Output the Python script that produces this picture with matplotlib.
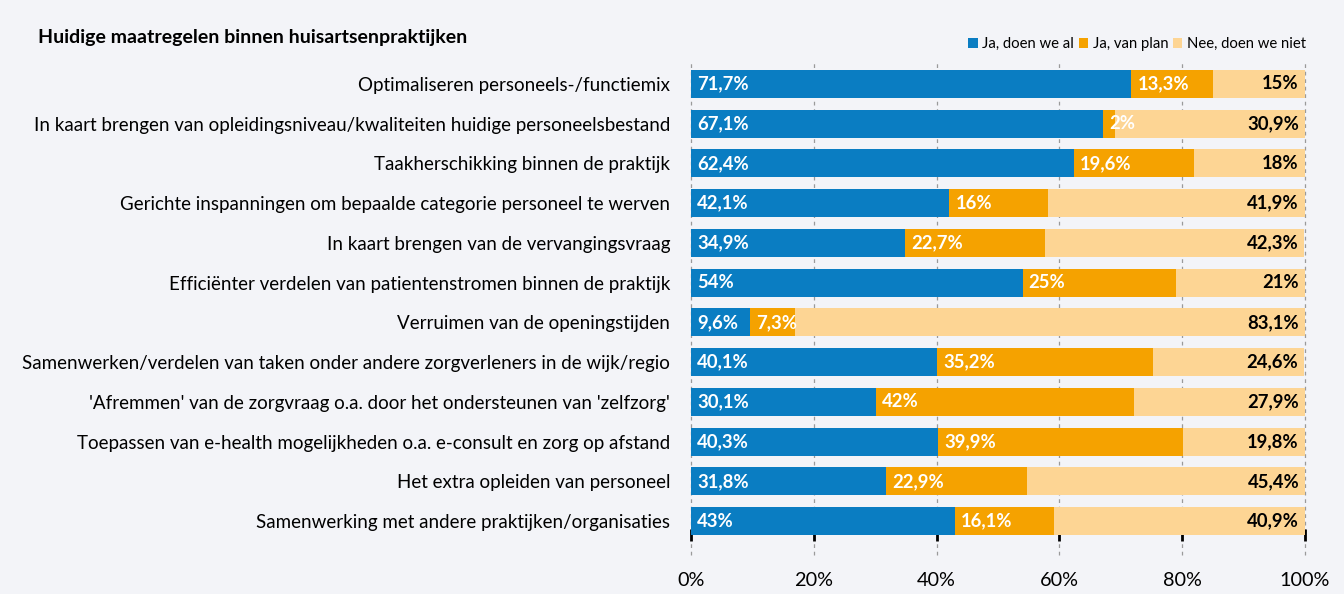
import matplotlib
matplotlib.use("Agg")
import matplotlib.pyplot as plt
import matplotlib.transforms as mtransforms
import numpy as np

plt.rcParams['font.family'] = ['Lato', 'DejaVu Sans']

categories = [
    "Optimaliseren personeels-/functiemix",
    "In kaart brengen van opleidingsniveau/kwaliteiten huidige personeelsbestand",
    "Taakherschikking binnen de praktijk",
    "Gerichte inspanningen om bepaalde categorie personeel te werven",
    "In kaart brengen van de vervangingsvraag",
    "Efficiënter verdelen van patientenstromen binnen de praktijk",
    "Verruimen van de openingstijden",
    "Samenwerken/verdelen van taken onder andere zorgverleners in de wijk/regio",
    "'Afremmen' van de zorgvraag o.a. door het ondersteunen van 'zelfzorg'",
    "Toepassen van e-health mogelijkheden o.a. e-consult en zorg op afstand",
    "Het extra opleiden van personeel",
    "Samenwerking met andere praktijken/organisaties",
]
ja_al = [71.7, 67.1, 62.4, 42.1, 34.9, 54, 9.6, 40.1, 30.1, 40.3, 31.8, 43]
ja_plan = [13.3, 2, 19.6, 16, 22.7, 25, 7.3, 35.2, 42, 39.9, 22.9, 16.1]
nee = [15, 30.9, 18, 41.9, 42.3, 21, 83.1, 24.6, 27.9, 19.8, 45.4, 40.9]
series_names = ["Ja, doen we al", "Ja, van plan", "Nee, doen we niet"]
xticks = [0, 20, 40, 60, 80, 100]
xticklabels = ["0%", "20%", "40%", "60%", "80%", "100%"]

colors = ["#0A7DC2", "#F5A200", "#FDD594"]
bg = "#F3F4F8"

def fmt(v):
    if abs(v - round(v)) < 1e-9:
        return f"{int(round(v))}%"
    return f"{v:.1f}".replace(".", ",") + "%"

fig = plt.figure(figsize=(13.44, 5.94), dpi=100, facecolor=bg)
ax = fig.add_axes([691/1344, 1 - 541/594, (1305 - 691)/1344, (541 - 64)/594])
ax.set_facecolor(bg)

y = np.arange(len(categories))
h = 0.7
left = np.zeros(len(categories))
data = [ja_al, ja_plan, nee]
for i, (vals, c, name) in enumerate(zip(data, colors, series_names)):
    vals = np.array(vals, dtype=float)
    ax.barh(y, vals, left=left, height=h, color=c, label=name, zorder=2)
    for yi, l, v in zip(y, left, vals):
        if i < 2:
            ax.text(l + 1.0, yi, fmt(v), color="white", fontweight="bold",
                    fontsize=13.3, va="center", ha="left", zorder=3)
        else:
            ax.text(l + v - 1.0, yi, fmt(v), color="black", fontweight="bold",
                    fontsize=13.3, va="center", ha="right", zorder=3)
    left = left + vals

ax.set_xlim(0, 100)
ax.set_ylim(len(categories) - 0.5, -0.5)
ax.set_yticks(y)
ax.set_yticklabels(categories, fontsize=13.5)
ax.tick_params(axis='y', length=0, pad=15)
ax.set_xticks(xticks)
ax.set_xticklabels(xticklabels, fontsize=14.3)
ax.tick_params(axis='x', direction='in', length=9, width=2, color="black", pad=22)
for s in ax.spines.values():
    s.set_visible(False)

trans = mtransforms.blended_transform_factory(ax.transData, ax.transAxes)
ax.vlines(xticks, -0.03, 1.005, transform=trans, colors="#9A9A9A",
          linestyles=(0, (3, 3)), linewidth=0.9, zorder=1, clip_on=False)

fig.text(38/1344, 1 - 38/594, "Huidige maatregelen binnen huisartsenpraktijken",
         fontsize=14, fontweight="bold", va="center", ha="left")

leg = fig.legend(loc="center right", bbox_to_anchor=(1306/1344, 1 - 44/594),
                 ncol=3, frameon=False, fontsize=10.7, handlelength=0.65,
                 handleheight=0.65, handletextpad=0.3, columnspacing=0.3,
                 borderaxespad=0, borderpad=0)

fig.savefig("out.png", dpi=100, facecolor=bg)
